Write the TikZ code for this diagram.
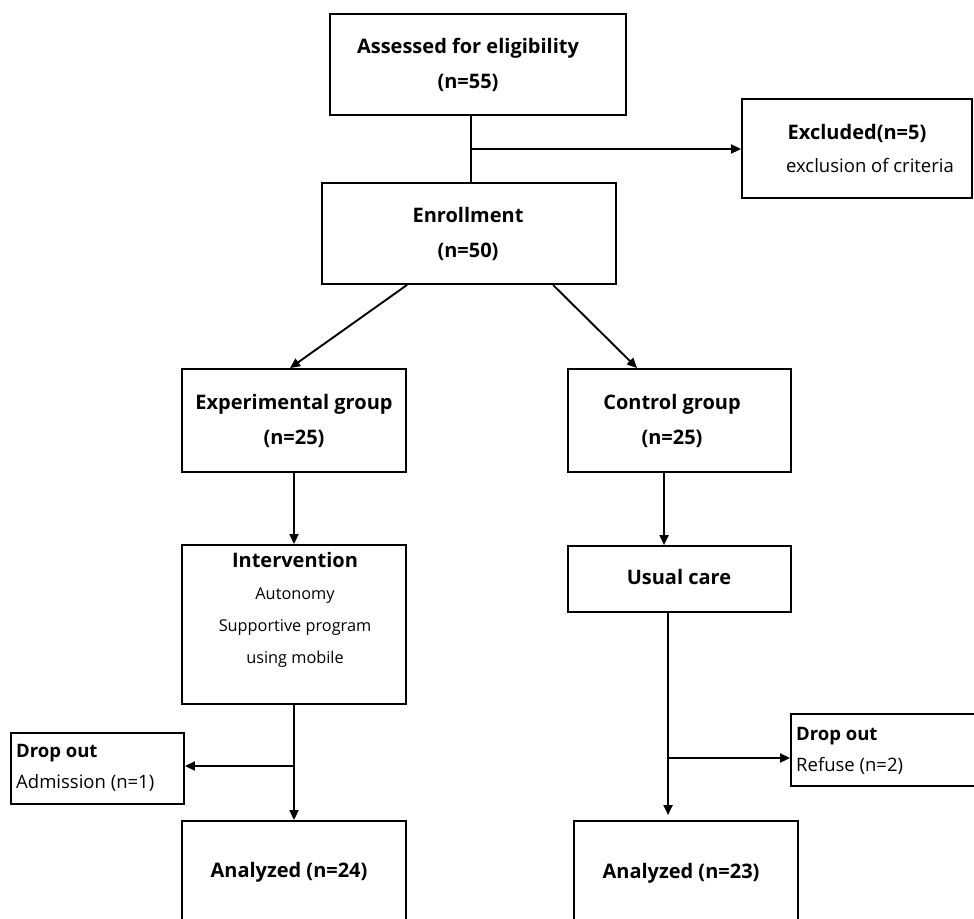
\documentclass[tikz,border=0pt]{standalone}
\usepackage{fontspec}
\setmainfont{Open Sans}
\usetikzlibrary{arrows.meta}
\tikzset{
  box/.style={draw, line width=1.9pt, inner sep=0pt, minimum width=#1},
  conn/.style={line width=1.9pt},
  arr/.style={line width=1.9pt, -{Triangle[length=10pt,width=9pt]}},
  hd/.style={font=\bfseries\fontsize{20}{35}\selectfont, align=center, inner sep=0pt},
  bd/.style={font=\fontsize{16.3}{32}\selectfont, align=center, inner sep=0pt},
  sm/.style={font=\fontsize{18.5}{31}\selectfont, align=left, inner sep=0pt, anchor=west},
}
\begin{document}
\begin{tikzpicture}[x=1pt, y=-1pt]
\useasboundingbox (0,0) rectangle (974,918);
\clip (0,0) rectangle (974,918);
% boxes
\node[box=296pt, minimum height=101pt] (assess) at (478,64.5) {};
\node[box=294pt, minimum height=101pt] (enroll) at (469,233.5) {};
\node[box=230pt, minimum height=99pt] (excl) at (857,148.5) {};
\node[box=224pt, minimum height=103pt] (exp) at (294,420.5) {};
\node[box=223pt, minimum height=103pt] (ctrl) at (679.5,420.5) {};
\node[box=224pt, minimum height=159pt] (interv) at (294,624.5) {};
\node[box=223pt, minimum height=66pt] (usual) at (679.5,579) {};
\node[box=173pt, minimum height=71pt] (dropL) at (97.5,768.5) {};
\node[box=199pt, minimum height=72pt] (dropR) at (890.5,750) {};
\node[box=224pt, minimum height=139pt] (anaL) at (294,890.5) {};
\node[box=224pt, minimum height=139pt] (anaR) at (686,890.5) {};
% texts
\node[hd] (tassess) at (468,64.5) {Assessed for eligibility\\(n=55)};
\node[hd] (tenroll) at (468,233.5) {Enrollment\\(n=50)};
\node[hd] (texcl1) at (857,133) {Excluded(n=5)};
\node[bd, font=\fontsize{18.5}{32}\selectfont] (texcl2) at (870,166) {exclusion of criteria};
\node[hd] (texp) at (294,420.5) {Experimental group\\(n=25)};
\node[hd] (tctrl) at (672,420.5) {Control group\\(n=25)};
\node[bd] (tinterv) at (295,609.5) {\textbf{\fontsize{20}{32}\selectfont Intervention}\\Autonomy\\Supportive program\\using mobile};
\node[hd] (tusual) at (679,577) {Usual care};
\node[sm] (tdropL) at (16,767.5) {\textbf{Drop out}\\Admission (n=1)};
\node[sm] (tdropR) at (796,750.5) {\textbf{Drop out}\\Refuse (n=2)};
\node[hd] (tanaL) at (289,872) {Analyzed (n=24)};
\node[hd] (tanaR) at (681,873) {Analyzed (n=23)};
% connectors
\coordinate (j1) at (471,149);
\draw[conn] (assess.south -| j1) -- (enroll.north -| j1);
\draw[arr] (j1) -- (excl.west |- j1);
\draw[arr] ([xshift=86pt]enroll.south west) -- ([xshift=109pt]exp.north west);
\draw[arr] ([xshift=232pt]enroll.south west) -- ([xshift=70pt]ctrl.north west);
\draw[arr] (exp.south) -- (interv.north);
\draw[arr] ([xshift=97pt]ctrl.south west) -- ([xshift=97pt]usual.north west);
\draw[arr] (interv.south) -- (anaL.north);
\coordinate (b1) at (294,766);
\draw[arr] (b1) -- (dropL.east |- b1);
\coordinate (b2) at (669,758);
\draw[arr] ([xshift=101pt]usual.south west) -- ([xshift=95pt,yshift=5pt]anaR.north west);
\draw[arr] (b2) -- (dropR.west |- b2);
\end{tikzpicture}
\end{document}
